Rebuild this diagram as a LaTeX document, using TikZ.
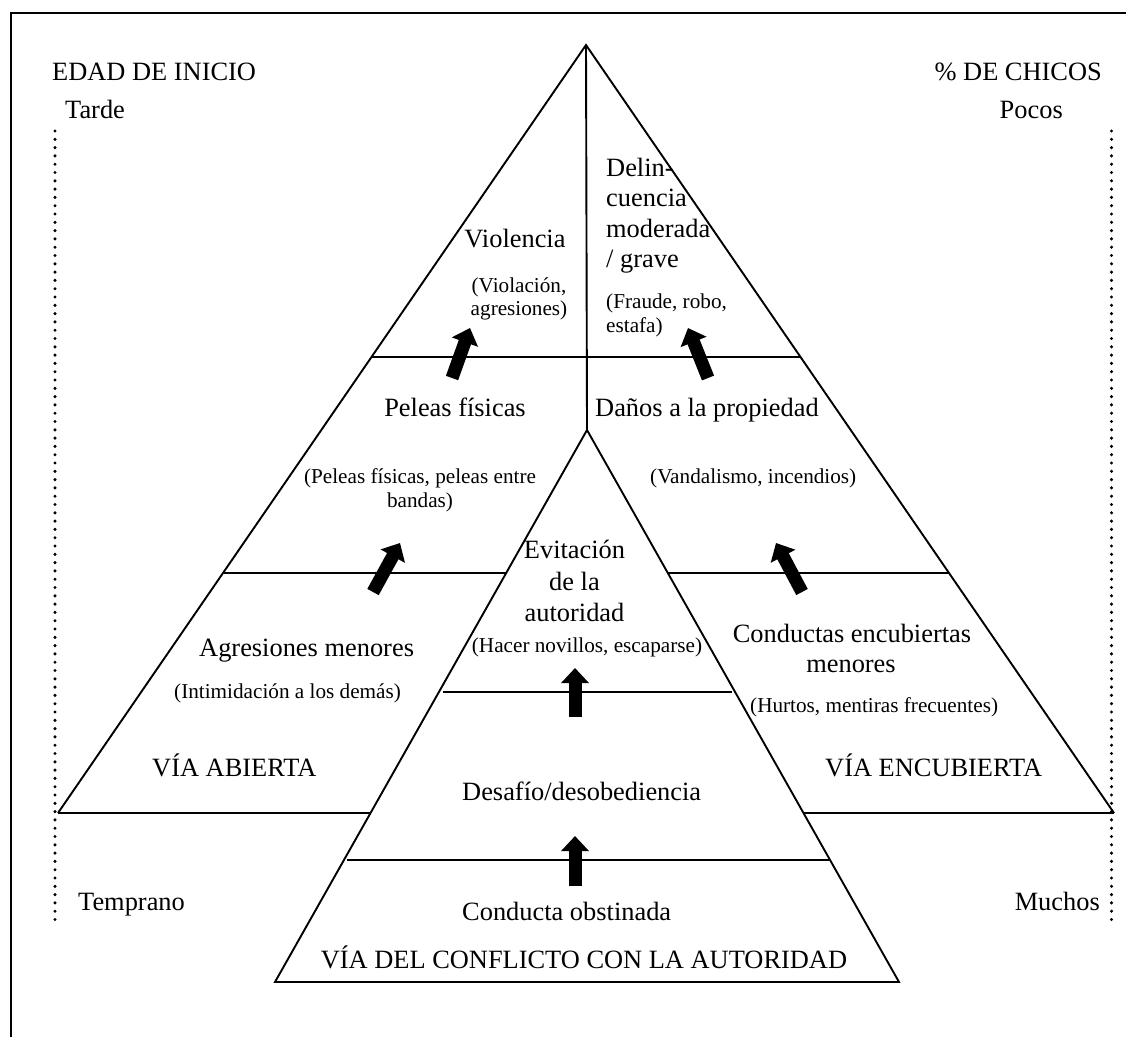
\documentclass[tikz,border=0pt]{standalone}
\usepackage{fontspec}
\setmainfont{Liberation Serif}
\usetikzlibrary{arrows.meta}

\begin{document}
\begin{tikzpicture}[x=1pt,y=-1pt,
  edge/.style={line width=1.9pt},
  big/.style={font=\fontsize{26.4}{30}\selectfont, inner sep=0pt},
  small/.style={font=\fontsize{21.2}{24}\selectfont, inner sep=0pt},
  rise/.style={line width=13pt, -{Triangle[length=15pt,width=27pt]}},
  dots/.style={line width=3.4pt, line cap=round, dash pattern=on 0pt off 8.3pt}]

\useasboundingbox (0,0) rectangle (1126,1036);
\clip (0,0) rectangle (1126,1036);

% frame
\draw[line width=2pt] (10.5,1040) -- (10.5,13) -- (1130,13);

% outer pyramid and its central split
\coordinate (apex) at (586,45);
\coordinate (bl) at (58,813);
\coordinate (br) at (1114,813);
\coordinate (iapex) at (587,430);
\coordinate (ibl) at (275,982);
\coordinate (ibr) at (899,982);

\draw[edge] (bl) -- (apex) -- (br);
\draw[edge] (apex) -- (iapex);
\draw[edge] (ibl) -- (iapex) -- (ibr) -- cycle;

% level separators
\draw[edge] (371.5,357) -- (800.5,357);
\draw[edge] (224,573) -- (506,573);
\draw[edge] (668,573) -- (949,573);
\draw[edge] (bl) -- (370.5,813);
\draw[edge] (803.5,813) -- (br);
\draw[edge] (443,692) -- (732,692);
\draw[edge] (347,860) -- (829,860);

% age / proportion scales
\draw[dots] (55,131) -- (55,920);
\draw[dots] (1111.5,131) -- (1111.5,920);

\node[big, anchor=base west] (edad) at (52,80) {EDAD DE INICIO};
\node[big, anchor=base east] (chicos) at (1102,80) {\% DE CHICOS};
\node[big, anchor=base west] (tarde) at (65,118) {Tarde};
\node[big, anchor=base east] (pocos) at (1063,118) {Pocos};
\node[big, anchor=base west] (temprano) at (78,910) {Temprano};
\node[big, anchor=base east] (muchos) at (1100,910) {Muchos};

% overt path
\node[big, anchor=base] (viol) at (515,247) {Violencia};
\node[small, anchor=base] (viol1) at (519,292) {(Violación,};
\node[small, anchor=base] (viol2) at (519,315) {agresiones)};
\node[big, anchor=base] (pel) at (455,416) {Peleas físicas};
\node[small, anchor=base] (pel1) at (420,483) {(Peleas físicas, peleas entre};
\node[small, anchor=base] (pel2) at (420,507) {bandas)};
\node[big, anchor=base west] (agr) at (199,656) {Agresiones menores};
\node[small, anchor=base west] (agr1) at (174,698) {(Intimidación a los demás)};
\node[big, anchor=base west] (abierta) at (152,776) {VÍA ABIERTA};

% covert path
\node[big, anchor=base west] (del1) at (606,176) {Delin-};
\node[big, anchor=base west] (del2) at (606,206.5) {cuencia};
\node[big, anchor=base west] (del3) at (606,237) {moderada};
\node[big, anchor=base west] (del4) at (606,267.5) {/ grave};
\node[small, anchor=base west] (del5) at (606,308) {(Fraude, robo,};
\node[small, anchor=base west] (del6) at (606,332) {estafa)};
\node[big, anchor=base west] (dan) at (595,416) {Daños a la propiedad};
\node[small, anchor=base west] (dan1) at (650,483) {(Vandalismo, incendios)};
\node[big, anchor=base] (cond1) at (852,642) {Conductas encubiertas};
\node[big, anchor=base] (cond2) at (851,672) {menores};
\node[small, anchor=base west] (cond3) at (750,712) {(Hurtos, mentiras frecuentes)};
\node[big, anchor=base west] (encub) at (825,776) {VÍA ENCUBIERTA};

% authority conflict path
\node[big, anchor=base] (evi1) at (574.5,558) {Evitación};
\node[big, anchor=base] (evi2) at (574.5,590) {de la};
\node[big, anchor=base] (evi3) at (574.5,621) {autoridad};
\node[small, anchor=base] (evi4) at (587,652) {(Hacer novillos, escaparse)};
\node[big, anchor=base west] (des) at (462,800) {Desafío/desobediencia};
\node[big, anchor=base west] (obs) at (462,920) {Conducta obstinada};
\node[big, anchor=base] (conf) at (584,968) {VÍA DEL CONFLICTO CON LA AUTORIDAD};

% progression arrows
\coordinate (a1s) at (373,592);  \coordinate (a1e) at (400,543);
\coordinate (a2s) at (452,378);  \coordinate (a2e) at (470,328);
\coordinate (a3s) at (708,378);  \coordinate (a3e) at (688,328);
\coordinate (a4s) at (802,592);  \coordinate (a4e) at (776,543);
\coordinate (a5s) at (575,717);  \coordinate (a5e) at (575,668);
\coordinate (a6s) at (575,886);  \coordinate (a6e) at (575,836);

\draw[rise] (a1s) -- (a1e);
\draw[rise] (a2s) -- (a2e);
\draw[rise] (a3s) -- (a3e);
\draw[rise] (a4s) -- (a4e);
\draw[rise] (a5s) -- (a5e);
\draw[rise] (a6s) -- (a6e);

\end{tikzpicture}
\end{document}
